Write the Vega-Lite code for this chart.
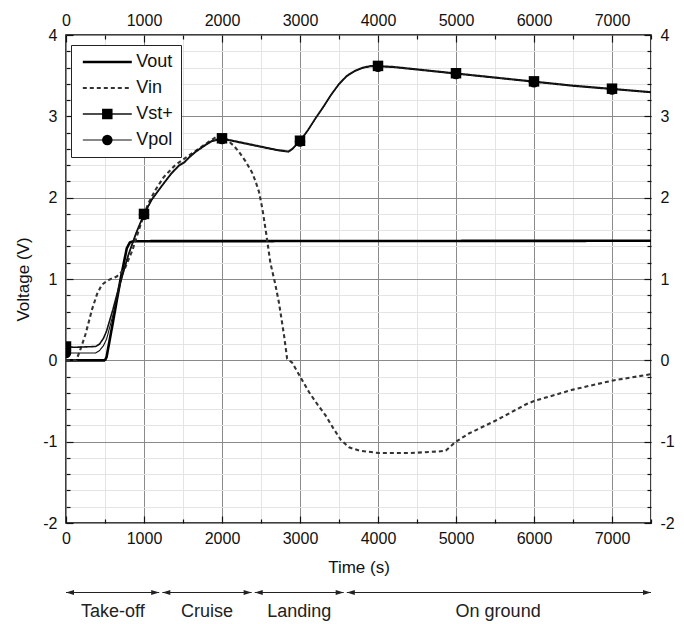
{
  "$schema": "https://vega.github.io/schema/vega-lite/v6.json",
  "padding": {"left": 14, "top": 8, "right": 5, "bottom": 5},
  "config": {
    "font": "Liberation Sans",
    "view": {"stroke": "black", "strokeWidth": 1.5},
    "axis": {"labelFontSize": 16, "labelColor": "#111", "titleFontSize": 17, "titleFontWeight": "normal", "titleColor": "#111", "domain": false, "tickColor": "#111", "tickWidth": 1.2, "labelFlush": false, "labelOverlap": false},
    "legend": {"labelFont": "Liberation Sans"}
  },
  "datasets": {
    "curves": [
      {"s": "Vout", "t": 0, "v": 0}, {"s": "Vout", "t": 500, "v": 0}, {"s": "Vout", "t": 520, "v": 0.04}, {"s": "Vout", "t": 600, "v": 0.46}, {"s": "Vout", "t": 700, "v": 1.0}, {"s": "Vout", "t": 780, "v": 1.38}, {"s": "Vout", "t": 820, "v": 1.45}, {"s": "Vout", "t": 870, "v": 1.465}, {"s": "Vout", "t": 1000, "v": 1.465}, {"s": "Vout", "t": 7500, "v": 1.47},
      {"s": "Vin", "t": 0, "v": 0}, {"s": "Vin", "t": 130, "v": 0}, {"s": "Vin", "t": 180, "v": 0.12}, {"s": "Vin", "t": 250, "v": 0.32}, {"s": "Vin", "t": 335, "v": 0.63}, {"s": "Vin", "t": 400, "v": 0.82}, {"s": "Vin", "t": 460, "v": 0.93}, {"s": "Vin", "t": 550, "v": 0.99}, {"s": "Vin", "t": 650, "v": 1.03}, {"s": "Vin", "t": 750, "v": 1.12}, {"s": "Vin", "t": 850, "v": 1.35}, {"s": "Vin", "t": 950, "v": 1.65}, {"s": "Vin", "t": 1050, "v": 1.92}, {"s": "Vin", "t": 1150, "v": 2.1}, {"s": "Vin", "t": 1250, "v": 2.25}, {"s": "Vin", "t": 1400, "v": 2.4}, {"s": "Vin", "t": 1550, "v": 2.5}, {"s": "Vin", "t": 1700, "v": 2.6}, {"s": "Vin", "t": 1850, "v": 2.7}, {"s": "Vin", "t": 1950, "v": 2.76}, {"s": "Vin", "t": 2000, "v": 2.76}, {"s": "Vin", "t": 2050, "v": 2.72}, {"s": "Vin", "t": 2150, "v": 2.64}, {"s": "Vin", "t": 2220, "v": 2.56}, {"s": "Vin", "t": 2300, "v": 2.45}, {"s": "Vin", "t": 2385, "v": 2.31}, {"s": "Vin", "t": 2430, "v": 2.2}, {"s": "Vin", "t": 2475, "v": 2.07}, {"s": "Vin", "t": 2520, "v": 1.85}, {"s": "Vin", "t": 2565, "v": 1.57}, {"s": "Vin", "t": 2620, "v": 1.2}, {"s": "Vin", "t": 2680, "v": 0.95}, {"s": "Vin", "t": 2730, "v": 0.71}, {"s": "Vin", "t": 2795, "v": 0.31}, {"s": "Vin", "t": 2835, "v": 0.02}, {"s": "Vin", "t": 2900, "v": -0.03}, {"s": "Vin", "t": 2990, "v": -0.18}, {"s": "Vin", "t": 3115, "v": -0.39}, {"s": "Vin", "t": 3230, "v": -0.55}, {"s": "Vin", "t": 3330, "v": -0.68}, {"s": "Vin", "t": 3430, "v": -0.84}, {"s": "Vin", "t": 3525, "v": -0.98}, {"s": "Vin", "t": 3630, "v": -1.07}, {"s": "Vin", "t": 3760, "v": -1.11}, {"s": "Vin", "t": 4010, "v": -1.14}, {"s": "Vin", "t": 4400, "v": -1.14}, {"s": "Vin", "t": 4780, "v": -1.12}, {"s": "Vin", "t": 4870, "v": -1.11}, {"s": "Vin", "t": 4975, "v": -1.02}, {"s": "Vin", "t": 5000, "v": -1.0}, {"s": "Vin", "t": 5165, "v": -0.9}, {"s": "Vin", "t": 5510, "v": -0.74}, {"s": "Vin", "t": 5900, "v": -0.54}, {"s": "Vin", "t": 6000, "v": -0.5}, {"s": "Vin", "t": 6500, "v": -0.36}, {"s": "Vin", "t": 7000, "v": -0.25}, {"s": "Vin", "t": 7500, "v": -0.17},
      {"s": "Vpol", "t": 0, "v": 0.09}, {"s": "Vpol", "t": 380, "v": 0.09}, {"s": "Vpol", "t": 430, "v": 0.12}, {"s": "Vpol", "t": 480, "v": 0.18}, {"s": "Vpol", "t": 520, "v": 0.26}, {"s": "Vpol", "t": 600, "v": 0.55}, {"s": "Vpol", "t": 700, "v": 0.95}, {"s": "Vpol", "t": 800, "v": 1.29}, {"s": "Vpol", "t": 900, "v": 1.56}, {"s": "Vpol", "t": 1000, "v": 1.79}, {"s": "Vpol", "t": 1100, "v": 1.97}, {"s": "Vpol", "t": 1230, "v": 2.14}, {"s": "Vpol", "t": 1350, "v": 2.29}, {"s": "Vpol", "t": 1450, "v": 2.39}, {"s": "Vpol", "t": 1520, "v": 2.43}, {"s": "Vpol", "t": 1580, "v": 2.49}, {"s": "Vpol", "t": 1665, "v": 2.56}, {"s": "Vpol", "t": 1770, "v": 2.63}, {"s": "Vpol", "t": 1870, "v": 2.69}, {"s": "Vpol", "t": 2000, "v": 2.72}, {"s": "Vpol", "t": 2100, "v": 2.7}, {"s": "Vpol", "t": 2300, "v": 2.66}, {"s": "Vpol", "t": 2500, "v": 2.62}, {"s": "Vpol", "t": 2700, "v": 2.58}, {"s": "Vpol", "t": 2850, "v": 2.56}, {"s": "Vpol", "t": 2900, "v": 2.59}, {"s": "Vpol", "t": 3000, "v": 2.69}, {"s": "Vpol", "t": 3100, "v": 2.82}, {"s": "Vpol", "t": 3200, "v": 2.97}, {"s": "Vpol", "t": 3300, "v": 3.11}, {"s": "Vpol", "t": 3400, "v": 3.26}, {"s": "Vpol", "t": 3500, "v": 3.39}, {"s": "Vpol", "t": 3600, "v": 3.49}, {"s": "Vpol", "t": 3700, "v": 3.55}, {"s": "Vpol", "t": 3800, "v": 3.59}, {"s": "Vpol", "t": 3900, "v": 3.61}, {"s": "Vpol", "t": 4000, "v": 3.61}, {"s": "Vpol", "t": 4200, "v": 3.6}, {"s": "Vpol", "t": 4500, "v": 3.57}, {"s": "Vpol", "t": 5000, "v": 3.52}, {"s": "Vpol", "t": 5500, "v": 3.47}, {"s": "Vpol", "t": 6000, "v": 3.42}, {"s": "Vpol", "t": 6500, "v": 3.37}, {"s": "Vpol", "t": 7000, "v": 3.33}, {"s": "Vpol", "t": 7500, "v": 3.29},
      {"s": "Vst+", "t": 0, "v": 0.17}, {"s": "Vst+", "t": 100, "v": 0.16}, {"s": "Vst+", "t": 380, "v": 0.17}, {"s": "Vst+", "t": 430, "v": 0.2}, {"s": "Vst+", "t": 480, "v": 0.27}, {"s": "Vst+", "t": 520, "v": 0.36}, {"s": "Vst+", "t": 600, "v": 0.62}, {"s": "Vst+", "t": 700, "v": 0.98}, {"s": "Vst+", "t": 800, "v": 1.3}, {"s": "Vst+", "t": 900, "v": 1.57}, {"s": "Vst+", "t": 1000, "v": 1.8}, {"s": "Vst+", "t": 1100, "v": 1.98}, {"s": "Vst+", "t": 1230, "v": 2.15}, {"s": "Vst+", "t": 1350, "v": 2.3}, {"s": "Vst+", "t": 1450, "v": 2.4}, {"s": "Vst+", "t": 1520, "v": 2.44}, {"s": "Vst+", "t": 1580, "v": 2.5}, {"s": "Vst+", "t": 1665, "v": 2.57}, {"s": "Vst+", "t": 1770, "v": 2.64}, {"s": "Vst+", "t": 1870, "v": 2.7}, {"s": "Vst+", "t": 2000, "v": 2.73}, {"s": "Vst+", "t": 2100, "v": 2.71}, {"s": "Vst+", "t": 2300, "v": 2.67}, {"s": "Vst+", "t": 2500, "v": 2.63}, {"s": "Vst+", "t": 2700, "v": 2.59}, {"s": "Vst+", "t": 2850, "v": 2.57}, {"s": "Vst+", "t": 2900, "v": 2.6}, {"s": "Vst+", "t": 3000, "v": 2.7}, {"s": "Vst+", "t": 3100, "v": 2.83}, {"s": "Vst+", "t": 3200, "v": 2.98}, {"s": "Vst+", "t": 3300, "v": 3.12}, {"s": "Vst+", "t": 3400, "v": 3.27}, {"s": "Vst+", "t": 3500, "v": 3.4}, {"s": "Vst+", "t": 3600, "v": 3.5}, {"s": "Vst+", "t": 3700, "v": 3.56}, {"s": "Vst+", "t": 3800, "v": 3.6}, {"s": "Vst+", "t": 3900, "v": 3.62}, {"s": "Vst+", "t": 4000, "v": 3.62}, {"s": "Vst+", "t": 4200, "v": 3.61}, {"s": "Vst+", "t": 4500, "v": 3.58}, {"s": "Vst+", "t": 5000, "v": 3.53}, {"s": "Vst+", "t": 5500, "v": 3.48}, {"s": "Vst+", "t": 6000, "v": 3.43}, {"s": "Vst+", "t": 6500, "v": 3.38}, {"s": "Vst+", "t": 7000, "v": 3.34}, {"s": "Vst+", "t": 7500, "v": 3.3}
    ],
    "phases": [
      {"phase": "Take-off", "start": 0, "end": 1195, "mid": 600},
      {"phase": "Cruise", "start": 1235, "end": 2380, "mid": 1808},
      {"phase": "Landing", "start": 2420, "end": 3560, "mid": 2990},
      {"phase": "On ground", "start": 3600, "end": 7500, "mid": 5540}
    ]
  },
  "vconcat": [
    {
      "width": 585,
      "height": 488,
      "data": {"name": "curves"},
      "layer": [
        {
          "mark": {"type": "line", "clip": true},
          "encoding": {
            "x": {"field": "t", "type": "quantitative", "scale": {"domain": [0, 7500], "nice": false, "zero": false},
              "axis": {"orient": "bottom", "title": "Time (s)", "titlePadding": 10, "values": [0,500,1000,1500,2000,2500,3000,3500,4000,4500,5000,5500,6000,6500,7000,7500],
                "labelExpr": "(datum.value % 1000 === 0 && datum.value < 7500) ? '' + datum.value : ''",
                "grid": true, "gridColor": {"condition": {"test": "datum.value % 1000 === 0", "value": "#8a8a8a"}, "value": "#e4e4e4"}, "gridWidth": 1,
                "tickSize": {"condition": {"test": "datum.value % 1000 === 0", "value": -7}, "value": -4}, "labelPadding": 14}},
            "y": {"field": "v", "type": "quantitative", "scale": {"domain": [-2, 4], "nice": false, "zero": false},
              "axis": {"orient": "left", "title": "Voltage (V)", "titlePadding": 10, "values": [-2,-1.8,-1.6,-1.4,-1.2,-1,-0.8,-0.6,-0.4,-0.2,0,0.2,0.4,0.6,0.8,1,1.2,1.4,1.6,1.8,2,2.2,2.4,2.6,2.8,3,3.2,3.4,3.6,3.8,4],
                "labelExpr": "abs(datum.value - round(datum.value)) < 0.01 ? '' + round(datum.value) : ''",
                "grid": true, "gridColor": {"condition": {"test": "abs(datum.value - round(datum.value)) < 0.01", "value": "#8a8a8a"}, "value": "#e4e4e4"}, "gridWidth": 1,
                "tickSize": {"condition": {"test": "abs(datum.value - round(datum.value)) < 0.01", "value": -7}, "value": -4}, "labelPadding": 16}},
            "detail": {"field": "s"},
            "stroke": {"field": "s", "type": "nominal", "scale": {"domain": ["Vout", "Vin", "Vst+", "Vpol"], "range": ["#000000", "#333333", "#111111", "#111111"]},
              "legend": {"orient": "none", "legendX": 5, "legendY": 10, "title": null, "symbolType": "M-4.67,0H4.67", "symbolSize": 110, "symbolOffset": 19.3, "labelOffset": 20, "labelFontSize": 18, "labelColor": "#111", "strokeColor": "#222", "fillColor": "white", "padding": 8, "rowPadding": 8}},
            "strokeDash": {"field": "s", "type": "nominal", "scale": {"domain": ["Vout", "Vin", "Vst+", "Vpol"], "range": [[1, 0], [4, 3], [1, 0], [1, 0]]}},
            "strokeWidth": {"field": "s", "type": "nominal", "scale": {"domain": ["Vout", "Vin", "Vst+", "Vpol"], "range": [2.6, 1.1, 1.3, 1.3]}}
          }
        },
        {
          "transform": [{"filter": "datum.t % 1000 === 0 && datum.t < 7500 && (datum.s === 'Vst+' || datum.s === 'Vpol')"}],
          "mark": {"type": "point", "filled": true, "color": "black", "opacity": 1, "size": 110, "clip": true},
          "encoding": {
            "x": {"field": "t", "type": "quantitative",
              "axis": {"orient": "top", "title": null, "values": [0,500,1000,1500,2000,2500,3000,3500,4000,4500,5000,5500,6000,6500,7000,7500],
                "labelExpr": "(datum.value % 1000 === 0 && datum.value < 7500) ? '' + datum.value : ''", "grid": false,
                "tickSize": {"condition": {"test": "datum.value % 1000 === 0", "value": -7}, "value": -4}, "labelPadding": 14}},
            "y": {"field": "v", "type": "quantitative",
              "axis": {"orient": "right", "title": null, "values": [-2,-1.8,-1.6,-1.4,-1.2,-1,-0.8,-0.6,-0.4,-0.2,0,0.2,0.4,0.6,0.8,1,1.2,1.4,1.6,1.8,2,2.2,2.4,2.6,2.8,3,3.2,3.4,3.6,3.8,4],
                "labelExpr": "abs(datum.value - round(datum.value)) < 0.01 ? '' + round(datum.value) : ''", "grid": false,
                "tickSize": {"condition": {"test": "abs(datum.value - round(datum.value)) < 0.01", "value": -7}, "value": -4}, "labelPadding": 16}},
            "shape": {"field": "s", "type": "nominal", "scale": {"domain": ["Vout", "Vin", "Vst+", "Vpol", "zz"], "range": ["M0,0", "M0,0", "square", "circle", "M0,0"]},
              "legend": {"orient": "none", "legendX": 5, "legendY": 10, "title": null, "values": ["Vout", "Vin", "Vst+", "Vpol"], "symbolSize": 110, "symbolOffset": 19.3, "labelOffset": 20, "symbolFillColor": "black", "symbolStrokeColor": "black", "labelFontSize": 18, "labelOpacity": 0, "padding": 8, "rowPadding": 8}}
          }
        }
      ],
      "resolve": {"axis": {"x": "independent", "y": "independent"}}
    },
    {
      "width": 585,
      "height": 34,
      "view": {"stroke": null},
      "data": {"name": "phases"},
      "layer": [
        {
          "mark": {"type": "rule", "color": "#222", "strokeWidth": 1.2},
          "encoding": {
            "x": {"field": "start", "type": "quantitative", "scale": {"domain": [0, 7500], "nice": false, "zero": false}, "axis": null},
            "x2": {"field": "end"},
            "y": {"datum": 0.78, "type": "quantitative", "scale": {"domain": [0, 1]}, "axis": null}
          }
        },
        {
          "mark": {"type": "point", "shape": "M0,0L2,-0.6L2,0.6Z", "filled": true, "color": "#222", "opacity": 1, "size": 64},
          "encoding": {
            "x": {"field": "start", "type": "quantitative"},
            "y": {"datum": 0.78, "type": "quantitative"}
          }
        },
        {
          "mark": {"type": "point", "shape": "M0,0L-2,-0.6L-2,0.6Z", "filled": true, "color": "#222", "opacity": 1, "size": 64},
          "encoding": {
            "x": {"field": "end", "type": "quantitative"},
            "y": {"datum": 0.78, "type": "quantitative"}
          }
        },
        {
          "mark": {"type": "text", "fontSize": 18, "color": "#222", "baseline": "middle"},
          "encoding": {
            "x": {"field": "mid", "type": "quantitative"},
            "y": {"datum": 0.22, "type": "quantitative"},
            "text": {"field": "phase"}
          }
        }
      ]
    }
  ],
  "bounds": "flush",
  "spacing": 62
}
